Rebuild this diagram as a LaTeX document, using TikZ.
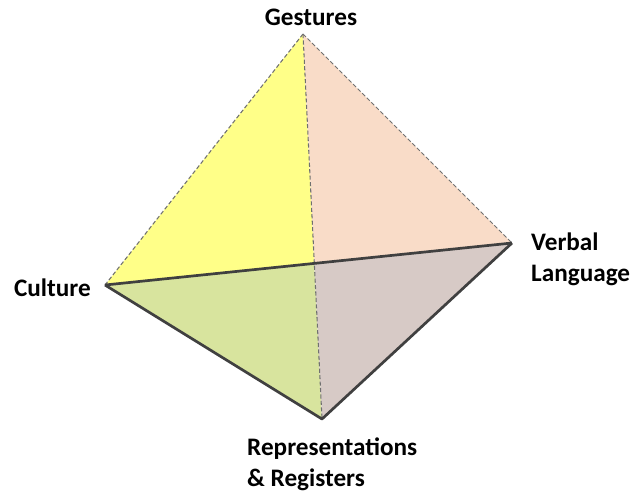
\documentclass[tikz,border=0pt]{standalone}
\usepackage{fontspec}
\setmainfont{Carlito}
\usepackage{tikz}
\usetikzlibrary{positioning}
\definecolor{faceYellow}{HTML}{FFFF88}
\definecolor{facePeach}{HTML}{F9DCC8}
\definecolor{faceGreen}{HTML}{D8E49E}
\definecolor{faceGrey}{HTML}{D7CAC6}
\definecolor{edgeDark}{HTML}{404040}
\tikzset{
        face/.style={draw=none},
        edgesolid/.style={draw=edgeDark, line width=2.3pt, line join=round},
        edgedash/.style={draw=edgeDark!75, line width=0.9pt, dash pattern=on 3.5pt off 2pt},
        lbl/.style={font=\fontsize{21.5}{26.5}\selectfont\bfseries, align=left, inner sep=0pt},
 }

\begin{document}
\begin{tikzpicture}[x=0.03cm, y=-0.03cm]
    \useasboundingbox (0,0) rectangle (637,493);

    \coordinate (top) at (303,34);
    \coordinate (left) at (105,285);
    \coordinate (right) at (512,243);
    \coordinate (bot) at (322,419);
    \coordinate (mid) at (intersection of top--bot and left--right);

    % faces
    \fill[faceYellow] (top) -- (left) -- (mid) -- cycle;
    \fill[facePeach] (top) -- (right) -- (mid) -- cycle;
    \fill[faceGreen] (left) -- (bot) -- (mid) -- cycle;
    \fill[faceGrey] (right) -- (bot) -- (mid) -- cycle;

    % edges
    \draw[edgedash] (top) -- (left);
    \draw[edgedash] (top) -- (right);
    \draw[edgedash] (top) -- (bot);
    \draw[edgesolid] (left) -- (right);
    \draw[edgesolid] (right) -- (bot) -- (left);

    % labels
    \node[lbl, anchor=base] (gest) at (311,25) {Gestures};
    \node[lbl, anchor=east] (cult) at (91,288) {Culture};
    \node[lbl, anchor=west] (verb) at (531,259) {Verbal\\Language};
    \node[lbl, anchor=west] (repr) at (247,464) {Representations\\\& Registers};
\end{tikzpicture}
\end{document}
